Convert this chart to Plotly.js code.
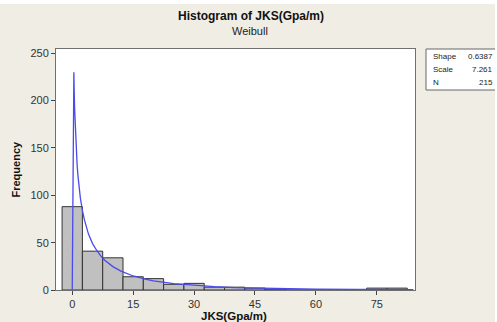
<!DOCTYPE html>
<html>
<head>
<meta charset="utf-8">
<script src="https://cdn.plot.ly/plotly-3.0.1.min.js"></script>
<style>html,body{margin:0;padding:0;background:#f0ede4;}#chart{width:497px;height:322px;}</style>
</head>
<body>
<div id="chart"></div>
<script>
// Histogram bins (centers) and counts
const binCenters = [0, 5, 10, 15, 20, 25, 30, 35, 40, 45, 50, 55, 60, 65, 70, 75, 80];
const binCounts  = [88, 41, 34, 14, 12, 6, 7, 3, 3, 2, 1, 0, 0, 0, 0, 2, 2];
const binWidth = 5;

// Fitted Weibull curve
const curveX = [0, 0.4, 0.5, 0.6, 0.8, 1.0, 1.2, 1.4, 1.6, 2, 2.5, 3, 4, 5, 6, 7, 8, 10, 12, 15, 18, 20, 25, 30, 35, 40, 45, 50, 60, 70, 84];
const curveY = [0, 230, 207, 190, 164, 146, 132, 121, 112, 97, 84, 74, 59, 49, 42, 36, 31.5, 24.7, 19.9, 14.8, 11.4, 9.7, 6.7, 4.8, 3.5, 2.6, 2.0, 1.5, 0.94, 0.59, 0.33];

// Fit summary
const statLabels = ["Shape", "Scale", "N"];
const statValues = ["0.6387", "7.261", "215"];

const xTicks = [0, 15, 30, 45, 60, 75];
const yTicks = [0, 50, 100, 150, 200, 250];

const font = "Arial, 'Liberation Sans', sans-serif";

const traces = [
  {
    type: 'bar',
    x: binCenters,
    y: binCounts,
    width: binCenters.map(() => binWidth),
    marker: {color: '#c0c0c0', line: {color: '#333333', width: 1}},
    hoverinfo: 'x+y'
  },
  {
    type: 'scatter',
    mode: 'lines',
    x: curveX,
    y: curveY,
    line: {color: '#4a4aee', width: 1.3},
    cliponaxis: true
  }
];

const L = 56, R = 82, T = 49, B = 32, W = 497, H = 322;
const pw = W - L - R, ph = H - T - B;
const px = v => (v - L) / pw;
const py = v => (H - B - v) / ph;

const annotations = [
  {text: '<b>Histogram of JKS(Gpa/m)</b>', x: px(251), y: py(16), xref: 'paper', yref: 'paper',
   showarrow: false, xanchor: 'center', yanchor: 'middle', font: {family: font, size: 12, color: '#111'}},
  {text: 'Weibull', x: px(250), y: py(31), xref: 'paper', yref: 'paper',
   showarrow: false, xanchor: 'center', yanchor: 'middle', font: {family: font, size: 11, color: '#222'}},
  {text: '<b>Frequency</b>', x: px(15), y: 0.5, xref: 'paper', yref: 'paper', textangle: -90,
   showarrow: false, xanchor: 'center', yanchor: 'middle', font: {family: font, size: 11, color: '#111'}},
  {text: '<b>JKS(Gpa/m)</b>', x: px(234), y: py(315.5), xref: 'paper', yref: 'paper',
   showarrow: false, xanchor: 'center', yanchor: 'middle', font: {family: font, size: 11.5, color: '#111'}}
];
const statY = [56.7, 69.3, 82.3];
statLabels.forEach((lab, i) => {
  annotations.push({text: lab, x: px(431), y: py(statY[i]), xref: 'paper', yref: 'paper',
    showarrow: false, xanchor: 'left', yanchor: 'middle', font: {family: font, size: 8, color: '#222'}});
  annotations.push({text: statValues[i], x: px(495), y: py(statY[i]), xref: 'paper', yref: 'paper',
    showarrow: false, xanchor: 'right', yanchor: 'middle', font: {family: font, size: 8, color: '#222'}});
});

const shapes = [
  {type: 'rect', xref: 'paper', yref: 'paper', x0: px(426), x1: px(496), y0: py(90), y1: py(49),
   fillcolor: '#ffffff', line: {color: '#666666', width: 1}, layer: 'below'},
  {type: 'rect', xref: 'paper', yref: 'paper', x0: px(0), x1: px(W), y0: py(4), y1: py(0),
   fillcolor: '#ffffff', line: {width: 0}, layer: 'below'},
  {type: 'rect', xref: 'paper', yref: 'paper', x0: px(495), x1: px(W), y0: py(H), y1: py(0),
   fillcolor: '#ffffff', line: {width: 0}, layer: 'below'}
];

const layout = {
  width: W, height: H,
  margin: {l: L, r: R, t: T, b: B, pad: 0},
  paper_bgcolor: '#f0ede4',
  plot_bgcolor: '#ffffff',
  showlegend: false,
  bargap: 0,
  font: {family: font, size: 11, color: '#333'},
  xaxis: {
    range: [-4, 84.4], tickvals: xTicks, ticktext: xTicks.map(String),
    ticks: 'outside', ticklen: 4, tickcolor: '#444', tickwidth: 1,
    showline: true, mirror: true, linecolor: '#707070', linewidth: 1,
    showgrid: false, zeroline: false,
    tickfont: {family: font, size: 11, color: '#333'}
  },
  yaxis: {
    range: [0, 254.5], tickvals: yTicks, ticktext: yTicks.map(String),
    ticks: 'outside', ticklen: 4, tickcolor: '#444', tickwidth: 1,
    showline: true, mirror: true, linecolor: '#707070', linewidth: 1,
    showgrid: false, zeroline: false,
    tickfont: {family: font, size: 11, color: '#333'}
  },
  annotations: annotations,
  shapes: shapes
};

Plotly.newPlot('chart', traces, layout, {displayModeBar: false, staticPlot: true});
</script>
</body>
</html>
